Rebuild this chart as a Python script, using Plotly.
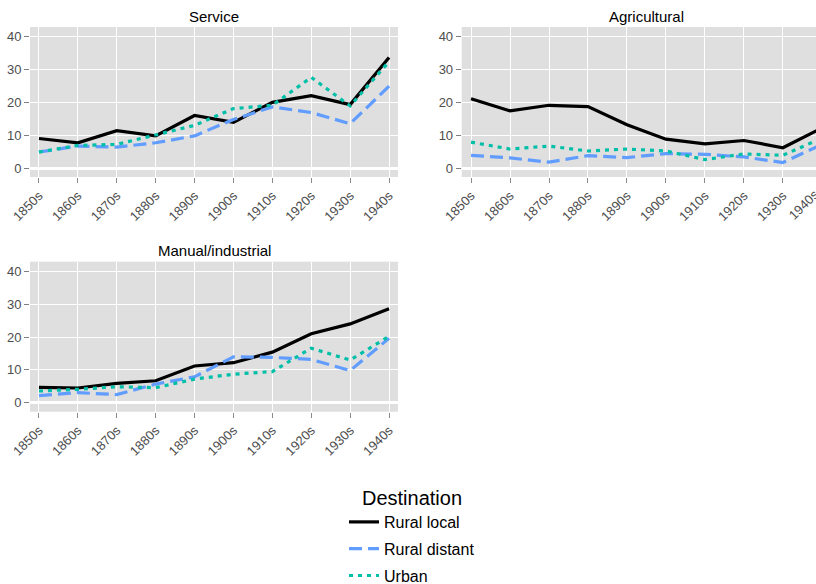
import plotly.graph_objects as go

decades = ["1850s", "1860s", "1870s", "1880s", "1890s", "1900s", "1910s", "1920s", "1930s", "1940s"]
destinations = ["Rural local", "Rural distant", "Urban"]
panels = ["Service", "Agricultural", "Manual/industrial"]

service_rural_local = [9.0, 7.7, 11.4, 9.8, 16.0, 13.9, 20.0, 22.0, 19.3, 33.6]
service_rural_distant = [4.9, 6.7, 6.4, 7.7, 9.8, 14.8, 18.6, 16.9, 13.5, 24.9]
service_urban = [4.9, 6.9, 7.2, 10.0, 13.0, 18.1, 19.1, 27.6, 18.9, 32.4]

agri_rural_local = [21.1, 17.4, 19.1, 18.7, 13.2, 8.8, 7.4, 8.4, 6.2, 12.2]
agri_rural_distant = [3.9, 3.1, 1.8, 3.8, 3.2, 4.4, 4.2, 3.4, 1.7, 7.2]
agri_urban = [7.9, 5.8, 6.7, 5.2, 5.8, 5.2, 2.6, 4.3, 3.9, 9.1]

manual_rural_local = [4.7, 4.5, 5.9, 6.7, 11.2, 12.2, 15.4, 21.0, 24.0, 28.6]
manual_rural_distant = [2.2, 3.1, 2.5, 5.7, 7.9, 14.0, 13.8, 13.2, 9.8, 19.6]
manual_urban = [3.6, 4.1, 4.9, 4.6, 7.2, 8.7, 9.5, 16.6, 13.0, 20.2]

panel_data = [
    [service_rural_local, service_rural_distant, service_urban],
    [agri_rural_local, agri_rural_distant, agri_urban],
    [manual_rural_local, manual_rural_distant, manual_urban],
]

colors = ["#000000", "#619CFF", "#00BFA8"]
dashes = ["solid", "13px,6px", "4px,5px"]

FONT = "Liberation Sans, Arial, sans-serif"
W, H = 816, 584


def px(xp):
    return xp / W


def py(yp):
    return 1 - yp / H


# page-pixel layout of panels (left, right, top, bottom)
boxes = [(30, 398, 27, 177), (461.7, 816, 27, 177), (30, 398, 261.7, 411.7)]
xranges = [[-0.23, 9.23], [-0.24, 8.85], [-0.23, 9.23]]
yrange = [-2.7, 42.9]

fig = go.Figure()
for p, series in enumerate(panel_data):
    ax = "" if p == 0 else str(p + 1)
    for i, vals in enumerate(series):
        fig.add_trace(go.Scatter(
            x=decades, y=vals, mode="lines",
            name=destinations[i], legendgroup=destinations[i],
            showlegend=(p == 0),
            line=dict(color=colors[i], width=3.2, dash=dashes[i]),
            xaxis="x" + ax, yaxis="y" + ax, cliponaxis=True,
        ))

layout = dict(
    width=W, height=H,
    margin=dict(l=0, r=0, t=0, b=0, autoexpand=False),
    paper_bgcolor="white", plot_bgcolor="#DFDFDF",
    font=dict(family=FONT, color="#000000"),
    legend=dict(
        title=dict(text="Destination", side="top center", font=dict(size=20, family=FONT)),
        font=dict(size=16, family=FONT),
        x=px(412), xanchor="center", y=py(479), yanchor="top",
        tracegroupgap=3, bgcolor="rgba(0,0,0,0)",
    ),
    annotations=[],
)

for p, (l, r, t, b) in enumerate(boxes):
    ax = "" if p == 0 else str(p + 1)
    layout["xaxis" + ax] = dict(
        domain=[px(l), min(px(r), 1.0)], range=xranges[p], type="category", anchor="y" + ax,
        automargin=False,
        showgrid=True, gridcolor="white", gridwidth=1.2,
        ticks="outside", ticklen=5, tickcolor="#8C8C8C", tickwidth=1.2,
        tickangle=-45, tickfont=dict(size=13, color="#4D4D4D", family=FONT),
        showline=False, zeroline=False,
    )
    layout["yaxis" + ax] = dict(
        domain=[py(b), py(t)], range=yrange, anchor="x" + ax,
        automargin=False,
        tickvals=[0, 10, 20, 30, 40],
        showgrid=True, gridcolor="white", gridwidth=1.2,
        zeroline=True, zerolinecolor="white", zerolinewidth=3,
        ticks="outside", ticklen=5, tickcolor="#7F7F7F", tickwidth=1.2,
        tickfont=dict(size=13, color="#4D4D4D", family=FONT),
        showline=False,
    )
    # panel title (strip text)
    cx = (l + (r if p != 1 else 831)) / 2
    layout["annotations"].append(dict(
        text=panels[p], xref="paper", yref="paper",
        x=px(cx), y=py(t - 11), xanchor="center", yanchor="middle",
        showarrow=False, font=dict(size=15, family=FONT, color="#000000"),
    ))

# the last decade label of the clipped Agricultural panel
l, r, t, b = boxes[1]
r0, r1 = xranges[1]
xtick = l + (9 - r0) / (r1 - r0) * (r - l)
layout["annotations"].append(dict(
    text=decades[-1], xref="paper", yref="paper",
    x=px(xtick + 3), y=py(b + 7), xanchor="right", yanchor="top",
    textangle=-45, showarrow=False,
    font=dict(size=13, color="#4D4D4D", family=FONT),
))

fig.update_layout(**layout)
fig.write_html(
    "out.html",
    config={"displayModeBar": False},
    post_script="document.body.style.margin='0';document.body.style.overflow='hidden';",
)
